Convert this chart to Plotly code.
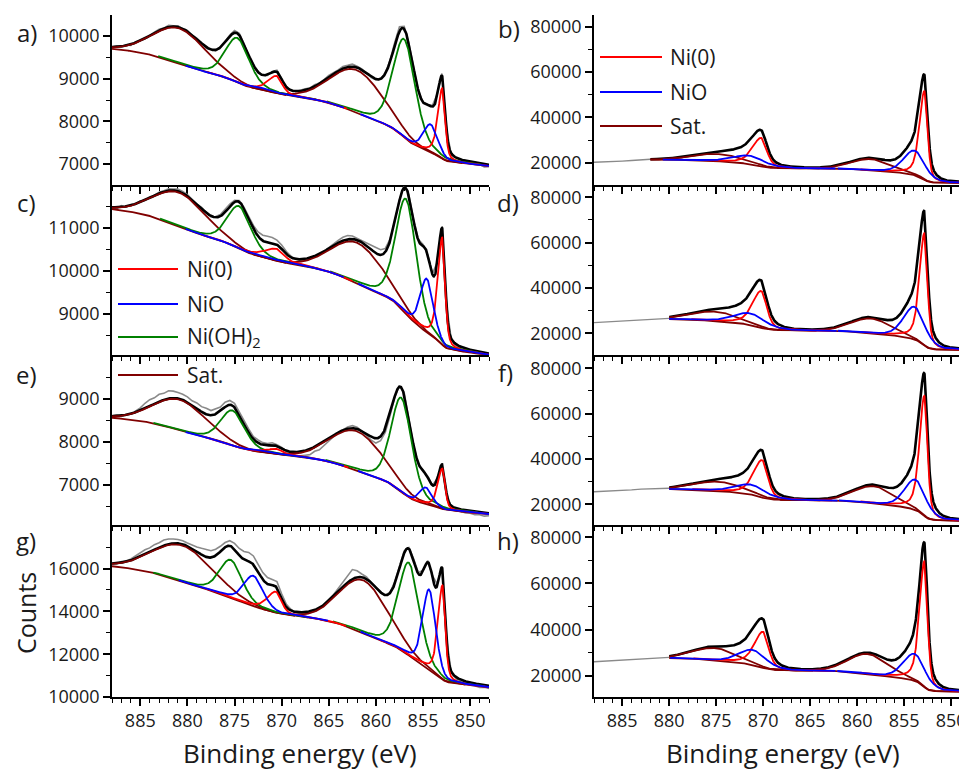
import numpy as np
import plotly.graph_objects as go

ENERGY_MAX = 888.0
ENERGY_MIN = 848.0
NI0_TAIL = 1.6

# ---------------- panel a ----------------
A_KIND = ["Sat.", "Ni(OH)2", "NiO", "Ni(0)", "Sat.", "Ni(OH)2", "NiO", "Ni(0)"]
A_CENTER = [880.8, 874.7, 871.8, 870.5, 862.0, 857.0, 854.2, 852.95]
A_HEIGHT = [820, 1040, 50, 410, 1000, 2300, 660, 1650]
A_FWHM = [6.6, 3.0, 3.0, 1.8, 6.5, 2.8, 1.8, 0.9]
A_BG = [9700, 6950]
A_RESID = [0, 20, -20, 10, -30, 20, 0, -20, 10,
           20, 30, 10, 40, 20, 30, 0, 20,
           -10, 20, 0, -30, 10, -20, 0, 20,
           30, 50, 40, 0, -20, 10, 20, 0,
           -20, 20, 40, 10, -20, 0, -10, 20,
           30, 10, 40, 20, 30, 50, 40, 30,
           50, 40, 60, 30, 20, 0, -30, -20,
           0, 20, 40, 80, 110, 60, 20, 0,
           -20, 10, 20, 30, 40, 50, 20, -30,
           0, -20, 10, -30, -40, -20, -60, -40]

# ---------------- panel c ----------------
C_KIND = ["Sat.", "Ni(OH)2", "NiO", "Ni(0)", "Sat.", "Ni(OH)2", "NiO", "Ni(0)"]
C_CENTER = [880.8, 874.5, 871.8, 870.5, 861.9, 856.8, 854.6, 852.95]
C_HEIGHT = [780, 980, 40, 280, 940, 2650, 1250, 2480]
C_FWHM = [6.6, 3.0, 3.0, 2.5, 6.5, 2.6, 1.6, 0.9]
C_BG = [11430, 8050]
C_RESID = [0, -30, 30, -20, 20, 0, 30, -10, 20,
           10, 30, 20, 40, 30, 50, 40, 30,
           20, 0, 30, 10, -20, 20, 40, 60,
           60, 40, 30, 20, 40, 70, 100, 130,
           150, 140, 110, 90, 60, 30, 0, -20,
           -40, -30, 0, -20, 10, 30, 40, 60,
           80, 90, 70, 40, 30, 60, 100, 130,
           120, 80, 50, 30, 20, 50, 30, 0,
           20, 40, 0, 20, 30, 0, 20, -20,
           -30, -50, -20, -40, -60, -40, -20, -50]

# ---------------- panel e ----------------
E_KIND = ["Sat.", "Ni(OH)2", "NiO", "Ni(0)", "Sat.", "Ni(OH)2", "NiO", "Ni(0)"]
E_CENTER = [880.8, 875.2, 871.8, 870.5, 862.0, 857.3, 854.7, 852.95]
E_HEIGHT = [710, 810, 40, 120, 910, 2180, 390, 935]
E_FWHM = [6.6, 3.0, 3.0, 2.0, 6.5, 2.6, 1.5, 0.9]
E_BG = [8556, 6320]
E_RESID = [0, 20, -20, 0, -10, 30, 60, 120, 150,
           140, 170, 150, 180, 160, 140, 130, 120,
           100, 130, 120, 140, 110, 130, 90, 110,
           100, 90, 60, 80, 90, 60, 70, 50,
           40, 60, 30, 20, -30, -60, -80, -100,
           -110, -130, -100, -120, -80, -60, -30, 0,
           20, 40, 60, 40, 0, -40, -80, -110,
           -100, -90, -50, -20, 30, 60, 40, 0,
           -20, 10, 30, 0, 20, -10, 0, -20,
           -30, -40, -60, -50, -70, -60, -80, -60]

# ---------------- panel g ----------------
G_KIND = ["Sat.", "Ni(OH)2", "NiO", "Ni(0)", "Sat.", "Ni(OH)2", "NiO", "Ni(0)"]
G_CENTER = [880.5, 875.4, 873.0, 870.6, 861.3, 856.5, 854.35, 852.93]
G_HEIGHT = [1680, 1760, 1420, 980, 2470, 4340, 3760, 4390]
G_FWHM = [7.4, 2.8, 2.4, 1.8, 6.0, 2.6, 1.6, 0.9]
G_BG = [16110, 10450]
G_RESID = [0, -40, 40, 0, 60, 100, 180, 220, 200,
           240, 220, 260, 240, 200, 180, 160, 140,
           150, 220, 300, 340, 320, 300, 250, 220,
           240, 280, 320, 380, 420, 400, 360, 320,
           300, 260, 280, 220, 130, 60, -20, -80,
           -100, -80, -60, -40, 0, 40, 80, 120,
           200, 300, 450, 300, 150, 100, 50, 0,
           -40, 0, 40, 80, 120, 100, 60, 80,
           60, 40, 80, 60, 100, 40, 0, -40,
           -80, -100, -60, -120, -100, -140, -100, -120]

# ---------------- panel b ----------------
B_KIND = ["Sat.", "NiO", "Ni(0)", "Sat.", "NiO", "Ni(0)"]
B_CENTER = [874.8, 871.5, 870.2, 858.5, 853.9, 852.85]
B_HEIGHT = [3200, 3700, 12500, 5000, 10800, 39000]
B_FWHM = [6.0, 4.0, 1.8, 5.0, 2.7, 1.0]
B_BG = [21350, 11000]
B_FIT_START = 882.0
B_RAW = [20200, 20300, 20550, 20700, 20950, 21150, 21500]

# ---------------- panel d ----------------
D_KIND = ["Sat.", "NiO", "Ni(0)", "Sat.", "NiO", "Ni(0)"]
D_CENTER = [875.1, 871.4, 870.2, 858.5, 853.9, 852.85]
D_HEIGHT = [4100, 5100, 16200, 6500, 14400, 49500]
D_FWHM = [6.0, 4.0, 1.8, 5.0, 2.7, 1.0]
D_BG = [26300, 12600]
D_FIT_START = 880.0
D_RAW = [24700, 24950, 25200, 25500, 25800, 26050, 26250, 26450, 26600]

# ---------------- panel f ----------------
F_KIND = ["Sat.", "NiO", "Ni(0)", "Sat.", "NiO", "Ni(0)"]
F_CENTER = [874.7, 871.3, 870.1, 858.2, 853.8, 852.85]
F_HEIGHT = [4100, 4400, 16500, 7600, 13400, 53000]
F_FWHM = [6.0, 4.0, 1.8, 5.0, 2.7, 1.0]
F_BG = [26750, 12700]
F_FIT_START = 880.0
F_RAW = [25550, 25700, 25900, 26100, 26350, 26700, 26850, 26950, 27050]

# ---------------- panel h ----------------
H_KIND = ["Sat.", "NiO", "Ni(0)", "Sat.", "NiO", "Ni(0)"]
H_CENTER = [875.1, 871.1, 870.0, 858.8, 853.9, 852.85]
H_HEIGHT = [5300, 6500, 15600, 8700, 11700, 54500]
H_FWHM = [5.5, 3.5, 1.8, 5.0, 2.8, 1.0]
H_BG = [27650, 13000]
H_FIT_START = 880.0
H_RAW = [26050, 26300, 26550, 26850, 27150, 27450, 27700, 27850, 27950]

LEGEND_ITEMS = ["Ni(0)", "NiO", "Ni(OH)2", "Sat."]

COLORS = {"Ni(0)": "#FF0000", "NiO": "#0000FF", "Ni(OH)2": "#008000", "Sat.": "#800000"}
LABELS = {"Ni(0)": "Ni(0)", "NiO": "NiO", "Ni(OH)2": "Ni(OH)<sub>2</sub>", "Sat.": "Sat."}
DRAW_ORDER = ["Sat.", "Ni(OH)2", "Ni(0)", "NiO"]


def profile(E, c, h, fwhm, kind):
    r = NI0_TAIL if kind == "Ni(0)" else 1.0
    eta = 0.5 if kind == "Ni(0)" else (0.05 if kind == "Sat." else 0.3)
    w_hi = fwhm * 2 * r / (1 + r)
    w_lo = fwhm * 2 / (1 + r)
    w = np.where(E > c, w_hi, w_lo)
    x = (E - c) / (w / 2)
    return h * ((1 - eta) * np.exp(-np.log(2) * x ** 2) + eta / (1 + x ** 2))


def build(kind, center, height, fwhm, bg, e_hi, w_sh):
    n = int(round((e_hi - ENERGY_MIN) / 0.02)) + 1
    E = np.linspace(ENERGY_MIN, e_hi, n)
    comps = [profile(E, c, h, f, k) for k, c, h, f in zip(kind, center, height, fwhm)]
    total = np.sum(comps, axis=0)
    A = np.concatenate([[0.0], np.cumsum((total[1:] + total[:-1]) / 2 * np.diff(E))])
    F = A / A[-1]
    lin = (E - ENERGY_MIN) / (e_hi - ENERGY_MIN)
    bgc = bg[1] + (bg[0] - bg[1]) * (w_sh * F + (1 - w_sh) * lin)
    return E, comps, bgc, bgc + total


# page pixel -> figure paper coordinates (the page body has an 8 px margin)
OFF = 8
FW = 967 - OFF
FH = 773 - OFF


def px(p):
    return (p - OFF) / FW


def py(p):
    return 1 - (p - OFF) / FH


ROWS_PX = [(15, 185), (186, 355), (356, 525), (526, 697)]
XDOM = [[px(112), px(489)], [px(594), 1.0]]
XRANGE = [[888, 848], [888, 848.32]]
YRANGES = {1: [6508, 10492], 2: [10161, 85160], 3: [8050, 11966], 4: [10426, 84986],
           5: [6066, 9990], 6: [10867, 85427], 7: [10000, 17990], 8: [10766, 84900]}
YDTICK = {1: 1000, 2: 20000, 3: 1000, 4: 20000, 5: 1000, 6: 20000, 7: 2000, 8: 20000}
YMINOR = {1: 500, 2: 10000, 3: 500, 4: 10000, 5: 500, 6: 10000, 7: 1000, 8: 10000}

left_panels = {
    1: (A_KIND, A_CENTER, A_HEIGHT, A_FWHM, A_BG, A_RESID),
    3: (C_KIND, C_CENTER, C_HEIGHT, C_FWHM, C_BG, C_RESID),
    5: (E_KIND, E_CENTER, E_HEIGHT, E_FWHM, E_BG, E_RESID),
    7: (G_KIND, G_CENTER, G_HEIGHT, G_FWHM, G_BG, G_RESID),
}
right_panels = {
    2: (B_KIND, B_CENTER, B_HEIGHT, B_FWHM, B_BG, B_FIT_START, B_RAW),
    4: (D_KIND, D_CENTER, D_HEIGHT, D_FWHM, D_BG, D_FIT_START, D_RAW),
    6: (F_KIND, F_CENTER, F_HEIGHT, F_FWHM, F_BG, F_FIT_START, F_RAW),
    8: (H_KIND, H_CENTER, H_HEIGHT, H_FWHM, H_BG, H_FIT_START, H_RAW),
}

fig = go.Figure()


def add_fit(i, E, comps, bgc, env, kind, center, fwhm):
    xa, ya = f"x{i}", f"y{i}"
    fig.add_trace(go.Scatter(x=E, y=env, mode="lines", line=dict(color="black", width=2.6),
                             xaxis=xa, yaxis=ya, showlegend=False, hoverinfo="skip"))
    fig.add_trace(go.Scatter(x=E, y=bgc, mode="lines", line=dict(color=COLORS["Sat."], width=1.8),
                             xaxis=xa, yaxis=ya, showlegend=False, hoverinfo="skip"))
    for k_draw in DRAW_ORDER:
        for comp, k, c, f in zip(comps, kind, center, fwhm):
            if k != k_draw:
                continue
            m = np.abs(E - c) <= 6 + 0.8 * f
            fig.add_trace(go.Scatter(x=E[m], y=bgc[m] + comp[m], mode="lines",
                                     line=dict(color=COLORS[k], width=1.8),
                                     xaxis=xa, yaxis=ya, showlegend=False, hoverinfo="skip"))


for i, (kind, center, height, fwhm, bg, resid) in left_panels.items():
    E, comps, bgc, env = build(kind, center, height, fwhm, bg, ENERGY_MAX, 0.7)
    raw_x = E[::25]
    raw_y = env[::25] + np.array(resid[::-1], dtype=float)
    fig.add_trace(go.Scatter(x=raw_x, y=raw_y, mode="lines", line=dict(color="#8a8a8a", width=1.6),
                             xaxis=f"x{i}", yaxis=f"y{i}", showlegend=False, hoverinfo="skip"))
    add_fit(i, E, comps, bgc, env, kind, center, fwhm)

for i, (kind, center, height, fwhm, bg, start, raw) in right_panels.items():
    E, comps, bgc, env = build(kind, center, height, fwhm, bg, start, 1.0)
    raw_x = np.arange(ENERGY_MAX, start - 0.5, -1.0)
    fig.add_trace(go.Scatter(x=raw_x, y=raw, mode="lines", line=dict(color="#8a8a8a", width=1.4),
                             xaxis=f"x{i}", yaxis=f"y{i}", showlegend=False, hoverinfo="skip"))
    add_fit(i, E, comps, bgc, env, kind, center, fwhm)

TICKFONT = dict(family="Open Sans", size=18, color="#1a1a1a")
layout = dict(width=FW, height=FH, margin=dict(l=0, r=0, t=0, b=0),
              paper_bgcolor="white", plot_bgcolor="white", showlegend=False)
for i in range(1, 9):
    col = 0 if i % 2 == 1 else 1
    row = (i - 1) // 2
    t, b = ROWS_PX[row]
    layout[f"xaxis{i}"] = dict(
        domain=XDOM[col], anchor=f"y{i}", range=XRANGE[col], showgrid=False, zeroline=False,
        showline=True, linecolor="black", linewidth=1.6, ticks="outside", ticklen=7,
        tickwidth=1.5, tickcolor="black", tick0=850, dtick=5, showticklabels=(row == 3),
        tickfont=TICKFONT, automargin=False, ticklabeloverflow="allow",
        minor=dict(ticks="outside", ticklen=4, tickwidth=1.2, tickcolor="black", tick0=848, dtick=1))
    layout[f"yaxis{i}"] = dict(
        domain=[py(b), py(t)], anchor=f"x{i}", range=YRANGES[i], showgrid=False,
        zeroline=False, showline=True, linecolor="black", linewidth=1.6, ticks="outside",
        ticklen=7, tickwidth=1.5, tickcolor="black", tick0=0, dtick=YDTICK[i], tickformat="d",
        tickfont=TICKFONT, automargin=False, ticklabeloverflow="allow",
        minor=dict(ticks="outside", ticklen=4, tickwidth=1.2, tickcolor="black", tick0=0, dtick=YMINOR[i]))
fig.update_layout(**layout)

ann = []
letters = [("a)", 27, 32), ("b)", 509, 28), ("c)", 26, 202), ("d)", 508, 202),
           ("e)", 26, 374), ("f)", 505, 372), ("g)", 26, 540), ("h)", 508, 540)]
for txt, x, y in letters:
    ann.append(dict(text=txt, x=px(x), y=py(y), xref="paper", yref="paper", showarrow=False,
                    xanchor="center", yanchor="middle", font=dict(family="Open Sans", size=24, color="#1a1a1a")))
ann.append(dict(text="Counts", x=px(26), y=py(613), xref="paper", yref="paper", showarrow=False,
                textangle=-90, xanchor="center", yanchor="middle",
                font=dict(family="Open Sans", size=25, color="#1a1a1a")))
for xc in (300, 783):
    ann.append(dict(text="Binding energy (eV)", x=px(xc), y=py(753), xref="paper", yref="paper",
                    showarrow=False, xanchor="center", yanchor="middle",
                    font=dict(family="Open Sans", size=26, color="#1a1a1a")))

shapes = []
left_leg_y = [269, 304, 337, 375]
for k, y in zip(LEGEND_ITEMS, left_leg_y):
    shapes.append(dict(type="line", xref="paper", yref="paper", x0=px(118), x1=px(178),
                       y0=py(y), y1=py(y), line=dict(color=COLORS[k], width=2)))
    ann.append(dict(text=LABELS[k], x=px(185), y=py(y), xref="paper", yref="paper", showarrow=False,
                    xanchor="left", yanchor="middle", font=dict(family="Open Sans", size=21, color="#1a1a1a")))
right_leg_y = [57, 92, 126]
for k, y in zip(["Ni(0)", "NiO", "Sat."], right_leg_y):
    shapes.append(dict(type="line", xref="paper", yref="paper", x0=px(600), x1=px(662),
                       y0=py(y), y1=py(y), line=dict(color=COLORS[k], width=2)))
    ann.append(dict(text=LABELS[k], x=px(668), y=py(y), xref="paper", yref="paper", showarrow=False,
                    xanchor="left", yanchor="middle", font=dict(family="Open Sans", size=21, color="#1a1a1a")))

fig.update_layout(annotations=ann, shapes=shapes)
fig.write_html("out.html")
